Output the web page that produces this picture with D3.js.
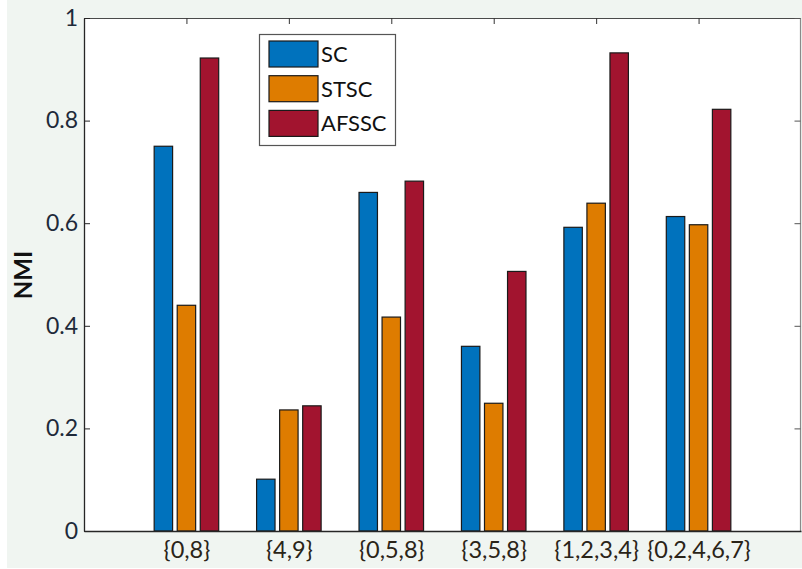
<!DOCTYPE html>
<html>
<head>
<meta charset="utf-8">
<script src="https://cdn.jsdelivr.net/npm/d3@7"></script>
<style>
  html, body { margin: 0; padding: 0; background: #ffffff; }
  svg { display: block; }
  text { font-family: Lato, "Open Sans", sans-serif; }
</style>
</head>
<body>
<svg id="chart" width="802" height="569"></svg>
<script>
// Clustering quality (NMI) per digit subset
const categories = ["{0,8}", "{4,9}", "{0,5,8}", "{3,5,8}", "{1,2,3,4}", "{0,2,4,6,7}"];
const seriesNames = ["SC", "STSC", "AFSSC"];
const scValues    = [0.75, 0.101, 0.66, 0.36, 0.592, 0.613];
const stscValues  = [0.44, 0.236, 0.417, 0.249, 0.639, 0.597];
const afsscValues = [0.922, 0.244, 0.682, 0.506, 0.932, 0.822];
const yTicks = [0, 0.2, 0.4, 0.6, 0.8, 1];
const yTickLabels = ["0", "0.2", "0.4", "0.6", "0.8", "1"];
const colors = ["#0072bd", "#de7c00", "#a2142f"];

const series = [scValues, stscValues, afsscValues];

const svg = d3.select("#chart");
const W = 802, H = 569;
const plot = { left: 84, right: 801, top: 18, bottom: 531 };

// figure background
svg.append("rect").attr("x", 7).attr("y", 0).attr("width", W - 7).attr("height", H - 1)
  .attr("fill", "#f0f5f1");

// plot area
svg.append("rect").attr("x", plot.left).attr("y", plot.top)
  .attr("width", plot.right - plot.left).attr("height", plot.bottom - plot.top)
  .attr("fill", "#ffffff");

// groups sit at integer positions 1..n on a 0..n+1 axis
const x = d3.scaleLinear().domain([0, categories.length + 1]).range([plot.left, plot.right]);
const y = d3.scaleLinear().domain([0, 1]).range([plot.bottom, plot.top]);

const step = x(1) - x(0);
const barOffset = step * 0.225;
const barW = step * 0.18;

// bars
series.forEach((vals, si) => {
  svg.append("g").selectAll("rect").data(vals).join("rect")
    .attr("x", (d, i) => x(i + 1) + (si - 1) * barOffset - barW / 2)
    .attr("y", d => y(d))
    .attr("width", barW)
    .attr("height", d => y(0) - y(d))
    .attr("fill", colors[si])
    .attr("stroke", "#1a1a1a")
    .attr("stroke-width", 1.2);
});

// box outline: left & bottom dark, top & right lighter
svg.append("line").attr("x1", plot.left).attr("x2", plot.right).attr("y1", plot.top + 0.5).attr("y2", plot.top + 0.5)
  .attr("stroke", "#4a4a4a").attr("stroke-width", 1.2);
svg.append("line").attr("x1", plot.right - 0.5).attr("x2", plot.right - 0.5).attr("y1", plot.top).attr("y2", plot.bottom)
  .attr("stroke", "#8a8a8a").attr("stroke-width", 1.2);

// y axis (left) with mirrored ticks on the right
const yAxis = d3.axisLeft(y).tickValues(yTicks).tickSizeInner(-6).tickSizeOuter(0)
  .tickPadding(6).tickFormat((d, i) => yTickLabels[i]);
const gy = svg.append("g").attr("transform", `translate(${plot.left},0)`).call(yAxis);
gy.select(".domain").attr("stroke", "#262626").attr("stroke-width", 1.3);
gy.selectAll(".tick line").attr("stroke", "#262626");
gy.selectAll(".tick text").attr("x", -6).attr("fill", "#1e2a3a").style("font-size", "23px")
  .style("font-family", "Lato, 'Open Sans', sans-serif");

const gyr = svg.append("g").attr("transform", `translate(${plot.right - 0.5},0)`)
  .call(d3.axisRight(y).tickValues(yTicks).tickSizeInner(-6).tickSizeOuter(0).tickFormat(""));
gyr.select(".domain").remove();
gyr.selectAll(".tick line").attr("stroke", "#555");

// x axis (bottom) with mirrored ticks on the top
const xAxis = d3.axisBottom(x).tickValues(d3.range(1, categories.length + 1))
  .tickSizeInner(0).tickSizeOuter(0).tickPadding(10).tickFormat(d => categories[d - 1]);
const gx = svg.append("g").attr("transform", `translate(0,${plot.bottom})`).call(xAxis);
gx.select(".domain").attr("stroke", "#262626").attr("stroke-width", 1.3);
gx.selectAll(".tick text").attr("fill", "#2a2418").style("font-size", "23.5px")
  .style("font-family", "Lato, 'Open Sans', sans-serif");

const gxt = svg.append("g").attr("transform", `translate(0,${plot.top})`)
  .call(d3.axisTop(x).tickValues(d3.range(1, categories.length + 1)).tickSizeInner(-6).tickSizeOuter(0).tickFormat(""));
gxt.select(".domain").remove();
gxt.selectAll(".tick line").attr("stroke", "#333");

// y label
svg.append("text")
  .attr("transform", "translate(32,275) rotate(-90)")
  .attr("text-anchor", "middle")
  .attr("font-weight", "bold")
  .attr("font-size", "24px")
  .attr("fill", "#111")
  .text("NMI");

// legend
const leg = svg.append("g").attr("transform", "translate(259,34)");
leg.append("rect").attr("x", 0.5).attr("y", 0.5).attr("width", 136).attr("height", 111)
  .attr("fill", "#ffffff").attr("stroke", "#555").attr("stroke-width", 1.2);
seriesNames.forEach((name, i) => {
  const row = leg.append("g").attr("transform", `translate(0,${7 + i * 34.7})`);
  row.append("rect").attr("x", 10).attr("y", 0).attr("width", 49).attr("height", 26)
    .attr("fill", colors[i]).attr("stroke", "#1a1a1a").attr("stroke-width", 1.2);
  row.append("text").attr("x", 62).attr("y", 21).attr("font-size", "22px").attr("fill", "#111")
    .text(name);
});
</script>
</body>
</html>
